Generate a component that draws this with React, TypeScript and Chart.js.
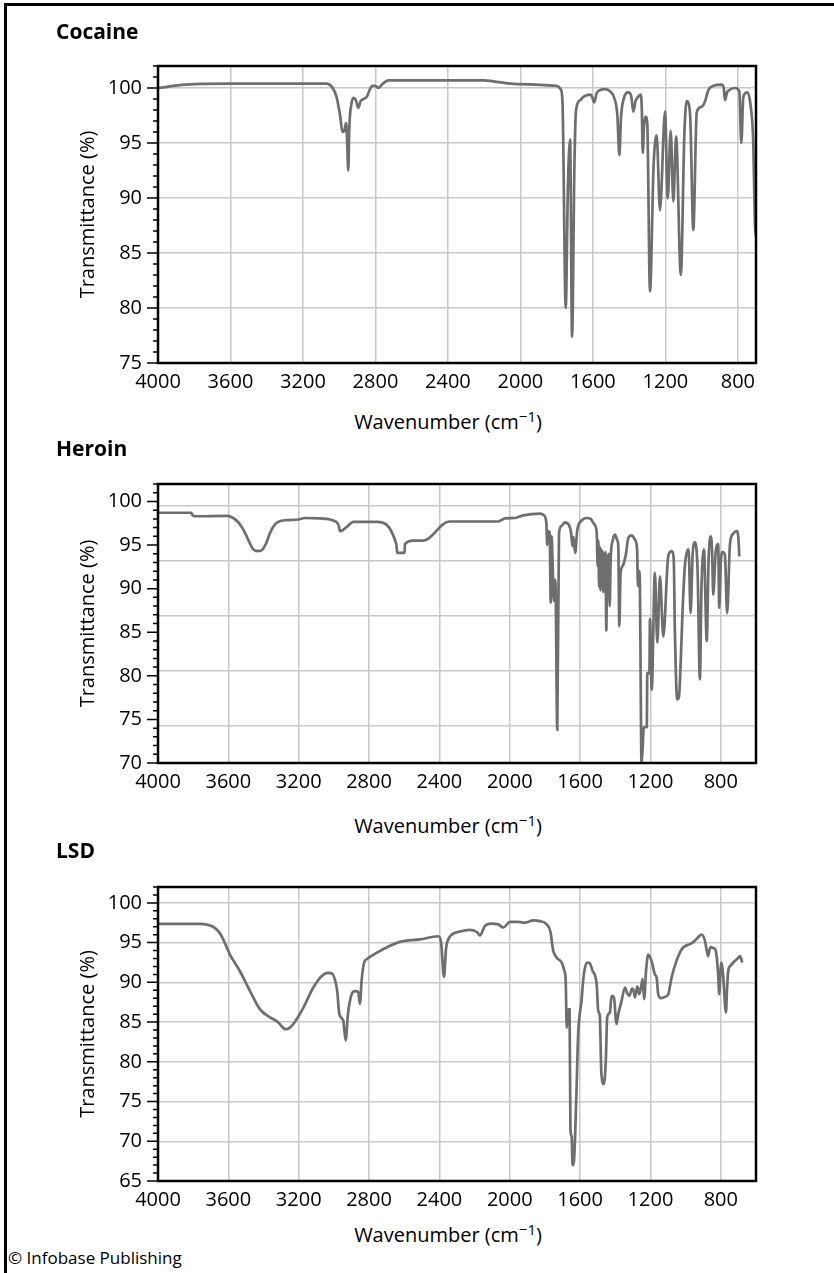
import React, { useEffect, useRef } from 'react';
import { Chart, registerables } from 'chart.js';

Chart.register(...registerables);

const FONT_FAMILY = '"Open Sans", "Noto Sans", sans-serif';
const LINE_COLOR = '#6e6e6e';
const GRID_COLOR = '#c8c8c8';

// x tick step (cm^-1) and axis maxima
const X_MAX = 4000;
const X_STEP = 400;
const Y_MAX = 102;
const Y_STEP = 5;

// [wavenumber (cm^-1), transmittance (%)]
const cocaineSpectrum: number[][] = [
  [4000, 100.0], [3850, 100.3], [3600, 100.4], [3200, 100.4], [3070, 100.4], [3040, 100.1],
  [3015, 99.2], [2995, 97.5], [2982, 96.0], [2972, 96.1], [2962, 96.8], [2956, 95.0],
  [2950, 92.5], [2944, 96.5], [2932, 98.6], [2922, 99.1], [2908, 98.9], [2895, 98.2],
  [2882, 98.8], [2867, 99.0], [2848, 99.2], [2830, 99.9], [2818, 100.2], [2800, 100.2],
  [2784, 100.0], [2765, 100.3], [2729, 100.7], [2200, 100.7], [2150, 100.6], [2020, 100.35],
  [1800, 100.2], [1778, 99.9], [1768, 98.8], [1750, 80.0], [1738, 91.0], [1726, 95.3],
  [1715, 77.4], [1702, 93.0], [1693, 98.0], [1670, 98.9], [1653, 99.2], [1612, 99.4],
  [1598, 98.9], [1592, 98.7], [1580, 99.5], [1561, 99.8], [1530, 99.9], [1505, 99.7],
  [1480, 99.0], [1465, 97.5], [1454, 93.9], [1445, 97.3], [1432, 98.9], [1404, 99.6],
  [1388, 99.2], [1377, 97.85], [1365, 98.8], [1355, 99.1], [1336, 99.4], [1330, 98.0],
  [1325, 94.1], [1318, 96.5], [1310, 97.4], [1300, 96.8], [1285, 81.5], [1265, 93.0],
  [1248, 95.7], [1230, 88.9], [1202, 97.85], [1187, 89.97], [1171, 96.1], [1156, 89.7],
  [1141, 95.6], [1115, 83.0], [1095, 96.0], [1082, 98.8], [1064, 97.7], [1046, 87.1],
  [1027, 97.8], [1000, 98.3], [981, 98.8], [963, 99.8], [935, 100.2], [889, 100.3],
  [878, 100.0], [871, 98.9], [860, 99.6], [853, 99.75], [816, 100.0], [792, 99.7],
  [781, 95.0], [770, 99.2], [748, 99.6], [729, 98.3], [715, 95.0], [706, 87.7], [700, 86.5],
];

const heroinSpectrum: number[][] = [
  [4000, 98.7], [3812, 98.7], [3800, 98.35], [3780, 98.3], [3610, 98.35], [3572, 98.1],
  [3535, 97.4], [3505, 96.4], [3487, 95.6], [3458, 94.5], [3430, 94.3], [3405, 94.5],
  [3385, 95.2], [3363, 96.4], [3325, 97.55], [3268, 97.86], [3202, 97.93], [3164, 98.1],
  [3079, 98.05], [2990, 97.7], [2972, 97.2], [2966, 96.6], [2950, 96.7], [2920, 97.2],
  [2890, 97.66], [2757, 97.66], [2645, 95.1], [2640, 94.1], [2598, 94.1], [2596, 95.1],
  [2549, 95.5], [2492, 95.5], [2344, 97.7], [2065, 97.7], [2027, 98.05], [1970, 98.1],
  [1923, 98.4], [1828, 98.6], [1805, 98.4], [1792, 97.5], [1787, 95.0], [1781, 96.6],
  [1773, 96.4], [1767, 88.4], [1762, 96.0], [1757, 93.3], [1749, 88.6], [1744, 91.0],
  [1740, 90.6], [1730, 73.8], [1720, 96.4], [1705, 97.2], [1686, 97.6], [1664, 97.3],
  [1652, 96.5], [1644, 94.9], [1638, 95.9], [1628, 94.1], [1617, 96.6], [1592, 97.8],
  [1560, 98.1], [1540, 98.0], [1520, 97.4], [1506, 96.5], [1500, 92.6], [1496, 95.5],
  [1492, 90.2], [1488, 94.8], [1484, 89.8], [1480, 94.5], [1476, 90.5], [1472, 94.3],
  [1468, 89.6], [1464, 94.0], [1460, 90.5], [1456, 94.2], [1451, 85.2], [1446, 93.8],
  [1441, 89.5], [1437, 94.0], [1432, 88.0], [1426, 93.5], [1415, 95.5], [1402, 96.2],
  [1390, 95.6], [1383, 94.9], [1377, 85.7], [1370, 91.8], [1358, 92.6], [1340, 93.9],
  [1326, 95.8], [1307, 96.1], [1288, 95.6], [1276, 94.5], [1271, 90.3], [1265, 92.0],
  [1260, 90.3], [1256, 80.3], [1251, 70.0], [1245, 71.5], [1238, 74.1], [1221, 74.1],
  [1218, 80.3], [1206, 80.3], [1203, 86.5], [1193, 78.4], [1175, 91.8], [1161, 83.8],
  [1146, 91.4], [1127, 84.5], [1099, 93.7], [1080, 94.3], [1068, 93.5], [1061, 84.9],
  [1048, 77.3], [1038, 77.6], [1030, 80.5], [1018, 87.2], [1005, 92.5], [995, 94.0],
  [983, 94.5], [972, 87.2], [960, 94.0], [947, 95.3], [932, 92.0], [919, 79.6],
  [910, 90.0], [896, 94.5], [880, 84.0], [870, 93.0], [858, 96.0], [850, 94.5],
  [843, 89.3], [830, 94.0], [815, 95.1], [809, 87.8], [800, 93.0], [790, 94.2],
  [777, 93.9], [764, 87.2], [748, 95.1], [730, 96.3], [710, 96.6], [700, 95.8], [695, 93.7],
];

const lsdSpectrum: number[][] = [
  [4000, 97.37], [3761, 97.37], [3710, 97.2], [3686, 97.0], [3660, 96.5], [3638, 95.8],
  [3591, 93.5], [3534, 91.4], [3477, 88.9], [3420, 86.6], [3363, 85.6], [3316, 84.96],
  [3290, 84.3], [3272, 84.1], [3250, 84.3], [3231, 84.75], [3174, 86.8], [3117, 89.35],
  [3069, 90.8], [3035, 91.2], [3010, 91.1], [2990, 90.0], [2981, 88.9], [2969, 86.0],
  [2947, 85.2], [2933, 82.7], [2920, 86.0], [2899, 88.5], [2880, 88.9], [2862, 88.8],
  [2852, 87.3], [2842, 90.3], [2828, 92.5], [2814, 92.9], [2757, 93.7], [2681, 94.6],
  [2624, 95.1], [2510, 95.4], [2407, 95.8], [2390, 94.9], [2374, 90.7], [2362, 94.3],
  [2345, 95.6], [2330, 96.0], [2283, 96.4], [2226, 96.6], [2185, 96.3], [2170, 95.9],
  [2141, 97.1], [2104, 97.4], [2066, 97.3], [2037, 96.9], [1999, 97.6], [1951, 97.6],
  [1914, 97.5], [1866, 97.8], [1828, 97.7], [1790, 97.3], [1768, 96.3], [1760, 95.0],
  [1753, 94.0], [1733, 93.1], [1705, 92.5], [1690, 91.5], [1682, 90.2], [1676, 84.3],
  [1668, 86.5], [1660, 86.6], [1655, 71.4], [1648, 70.6], [1643, 67.0], [1636, 67.3],
  [1621, 76.0], [1611, 83.5], [1592, 87.7], [1579, 91.0], [1560, 92.5], [1545, 92.4],
  [1530, 91.5], [1506, 89.8], [1497, 86.4], [1488, 85.8], [1479, 78.5], [1465, 77.2],
  [1454, 80.1], [1446, 85.6], [1431, 86.2], [1421, 88.3], [1408, 88.1], [1393, 84.75],
  [1383, 86.0], [1364, 87.7], [1345, 89.35], [1332, 88.6], [1320, 88.3], [1305, 89.2],
  [1298, 89.1], [1288, 88.1], [1275, 89.5], [1264, 88.5], [1252, 89.6], [1245, 90.4],
  [1236, 87.9], [1225, 91.5], [1213, 93.5], [1194, 92.7], [1175, 91.0], [1165, 90.6],
  [1156, 88.5], [1140, 88.0], [1127, 88.1], [1099, 88.5], [1080, 90.6], [1052, 92.7],
  [1018, 94.3], [967, 94.9], [938, 95.45], [910, 96.0], [891, 95.3], [880, 94.0],
  [872, 93.3], [862, 94.3], [853, 94.4], [840, 94.3], [829, 94.0], [815, 91.0],
  [809, 88.5], [803, 91.0], [796, 92.5], [786, 90.6], [771, 86.2], [765, 89.0],
  [758, 91.4], [745, 92.1], [729, 92.5], [700, 93.1], [691, 93.3], [678, 92.5],
];

const cocaineAxis = { xMin: 700, yMin: 75 };
const heroinAxis = { xMin: 600, yMin: 70 };
const lsdAxis = { xMin: 600, yMin: 65 };
// The heroin panel's printed grid is offset from its tick labels
const heroinGridRange = { min: 76.6, max: 102 };

const titles = ['Cocaine', 'Heroin', 'LSD'];
const xAxisTitle = 'Wavenumber (cm';
const xAxisTitleSup = '\u22121';
const yAxisTitle = 'Transmittance (%)';
const credit = '\u00A9 Infobase Publishing';

const framePlugin = {
  id: 'frame',
  afterDraw(chart: any) {
    const { ctx, chartArea: a, scales } = chart;
    const y = scales.y;
    ctx.save();
    ctx.strokeStyle = '#000';
    ctx.lineWidth = 1.5;
    ctx.beginPath();
    for (let v = Math.ceil(y.min); v <= Math.floor(y.max); v++) {
      const py = y.getPixelForValue(v);
      const len = v % Y_STEP === 0 ? 11 : 5;
      ctx.moveTo(a.left - len, py);
      ctx.lineTo(a.left, py);
    }
    ctx.stroke();
    ctx.lineWidth = 2.5;
    ctx.strokeRect(a.left, a.top, a.right - a.left, a.bottom - a.top);
    ctx.restore();
  },
};

type PanelProps = {
  spectrum: number[][];
  xMin: number;
  yMin: number;
  plotTop: number;
  plotBottom: number;
  gridRange?: { min: number; max: number };
};

const PAD_TOP = 36;
const X_AXIS_H = 35;

function Panel({ spectrum, xMin, yMin, plotTop, plotBottom, gridRange }: PanelProps) {
  const ref = useRef<HTMLCanvasElement | null>(null);
  const canvasTop = plotTop - PAD_TOP;
  const canvasH = plotBottom + X_AXIS_H - canvasTop;

  useEffect(() => {
    if (!ref.current) return;
    const tickFont = { family: FONT_FAMILY, size: 20 };
    const scales: any = {
      x: {
        type: 'linear',
        reverse: true,
        min: xMin,
        max: X_MAX,
        afterFit: (s: any) => { s.height = X_AXIS_H; },
        afterBuildTicks: (s: any) => {
          const ticks = [];
          for (let v = Math.ceil(xMin / X_STEP) * X_STEP; v <= X_MAX; v += X_STEP) ticks.push({ value: v });
          s.ticks = ticks;
        },
        ticks: {
          stepSize: X_STEP,
          includeBounds: false,
          autoSkip: false,
          maxRotation: 0,
          font: tickFont,
          color: '#000',
          padding: 7,
          callback: (v: any) => String(v),
        },
        grid: { color: GRID_COLOR, lineWidth: 1.5, drawTicks: false },
        border: { display: false },
      },
      y: {
        type: 'linear',
        min: yMin,
        max: Y_MAX,
        afterFit: (s: any) => { s.width = 158; },
        ticks: {
          stepSize: Y_STEP,
          includeBounds: false,
          font: tickFont,
          color: '#000',
          padding: 16,
        },
        grid: {
          display: true,
          drawOnChartArea: !gridRange,
          drawTicks: false,
          color: GRID_COLOR,
          lineWidth: 1.5,
        },
        border: { display: false },
        title: {
          display: true,
          text: yAxisTitle,
          color: '#000',
          font: { family: FONT_FAMILY, size: 20 },
          padding: { top: 76, bottom: 0 },
        },
      },
    };
    if (gridRange) {
      scales.yGrid = {
        type: 'linear',
        position: 'left',
        min: gridRange.min,
        max: gridRange.max,
        afterFit: (s: any) => { s.width = 0; },
        afterBuildTicks: (s: any) => {
          s.ticks = s.ticks.filter((t: any) => t.value % Y_STEP === 0);
        },
        ticks: { display: false, stepSize: Y_STEP, includeBounds: false },
        grid: { color: GRID_COLOR, lineWidth: 1.5, drawTicks: false },
        border: { display: false },
      };
    }
    const chart = new Chart(ref.current, {
      type: 'line',
      data: {
        datasets: [
          {
            data: spectrum.map(([x, y]) => ({ x, y })),
            borderColor: LINE_COLOR,
            borderWidth: 2.7,
            pointRadius: 0,
            cubicInterpolationMode: 'monotone',
            fill: false,
            yAxisID: 'y',
          },
        ],
      },
      options: {
        responsive: false,
        maintainAspectRatio: false,
        animation: false,
        layout: { padding: { top: PAD_TOP, right: 78, bottom: 0, left: 0 } },
        plugins: {
          legend: { display: false },
          tooltip: { enabled: false },
          title: { display: false },
        },
        scales,
      } as any,
      plugins: [framePlugin],
    } as any);
    return () => chart.destroy();
  }, []);

  return (
    <canvas
      ref={ref}
      width={834}
      height={canvasH}
      style={{ position: 'absolute', left: 0, top: canvasTop, width: 834, height: canvasH }}
    />
  );
}

const textBase: React.CSSProperties = {
  position: 'absolute',
  fontFamily: FONT_FAMILY,
  color: '#000',
  whiteSpace: 'nowrap',
};

function Title({ text, top }: { text: string; top: number }) {
  return (
    <div style={{ ...textBase, left: 56, top, fontSize: 21, lineHeight: '21px', fontWeight: 700 }}>
      {text}
    </div>
  );
}

function XTitle({ top }: { top: number }) {
  return (
    <div
      style={{
        ...textBase,
        left: 248,
        width: 400,
        top,
        textAlign: 'center',
        fontSize: 20,
        lineHeight: '20px',
      }}
    >
      {xAxisTitle}
      <sup style={{ fontSize: 15, lineHeight: 0, verticalAlign: 7 }}>{xAxisTitleSup}</sup>)
    </div>
  );
}

export default function App() {
  return (
    <div
      style={{
        position: 'absolute',
        left: 0,
        top: 0,
        width: 834,
        height: 1273,
        background: '#fff',
        overflow: 'hidden',
      }}
    >
      <div
        style={{
          position: 'absolute',
          left: 4,
          top: 3,
          right: 0,
          bottom: 0,
          borderTop: '3px solid #000',
          borderLeft: '3px solid #000',
        }}
      />
      <Panel spectrum={cocaineSpectrum} xMin={cocaineAxis.xMin} yMin={cocaineAxis.yMin} plotTop={66} plotBottom={363} />
      <Panel
        spectrum={heroinSpectrum}
        xMin={heroinAxis.xMin}
        yMin={heroinAxis.yMin}
        plotTop={484}
        plotBottom={763}
        gridRange={heroinGridRange}
      />
      <Panel spectrum={lsdSpectrum} xMin={lsdAxis.xMin} yMin={lsdAxis.yMin} plotTop={887} plotBottom={1181} />
      <Title text={titles[0]} top={20.7} />
      <Title text={titles[1]} top={438} />
      <Title text={titles[2]} top={839.7} />
      <XTitle top={412} />
      <XTitle top={816} />
      <XTitle top={1225} />
      <div style={{ ...textBase, left: 8, top: 1249, fontSize: 17, lineHeight: '17px' }}>{credit}</div>
    </div>
  );
}
